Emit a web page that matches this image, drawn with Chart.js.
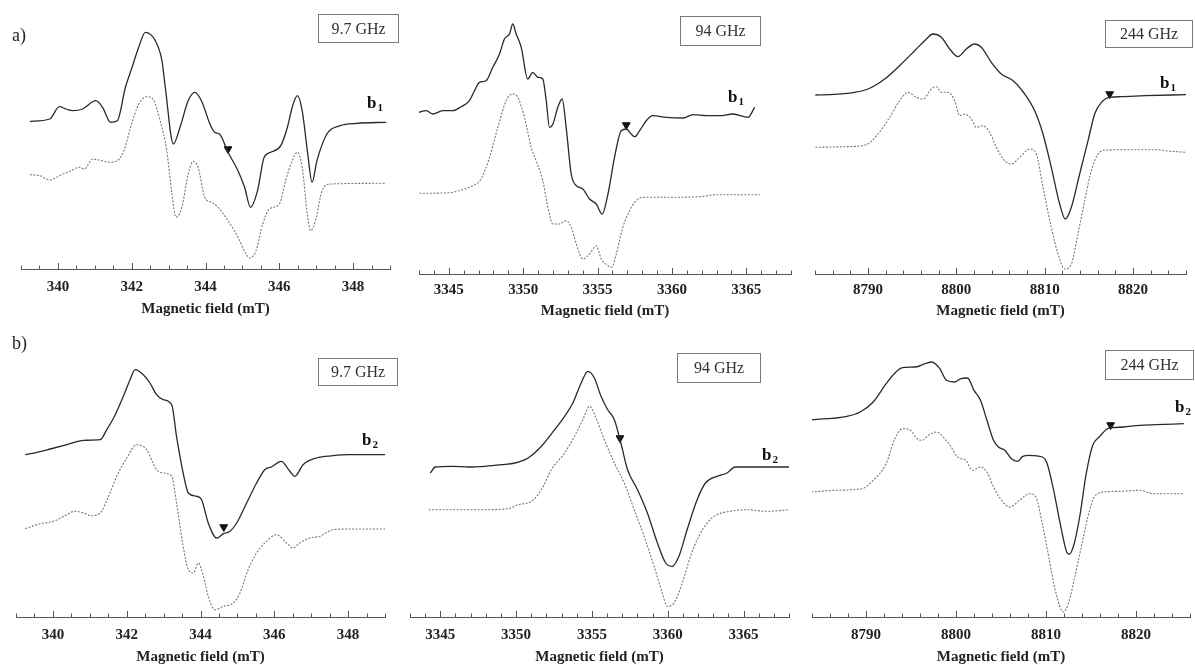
<!DOCTYPE html>
<html><head><meta charset="utf-8">
<script src="https://cdn.jsdelivr.net/npm/chart.js@4/dist/chart.umd.min.js"></script>
<style>
html,body{margin:0;padding:0;background:#fff;overflow:hidden;width:1195px;height:665px;position:relative;}
canvas{position:absolute;}
</style></head><body>
<canvas id="c1" width="400" height="320" style="left:0px;top:0px"></canvas>
<canvas id="c2" width="400" height="320" style="left:400px;top:0px"></canvas>
<canvas id="c3" width="395" height="320" style="left:800px;top:0px"></canvas>
<canvas id="c4" width="400" height="335" style="left:0px;top:330px"></canvas>
<canvas id="c5" width="400" height="335" style="left:400px;top:330px"></canvas>
<canvas id="c6" width="400" height="335" style="left:800px;top:330px"></canvas>
<script>
// ---------- tick labels ----------
const xTitle = 'Magnetic field (mT)';
const freqLabels = ['9.7 GHz', '94 GHz', '244 GHz'];
const xMajorX = [340, 342, 344, 346, 348];
const xMajorW = [3345, 3350, 3355, 3360, 3365];
const xMajorJ = [8790, 8800, 8810, 8820];

// ---------- a) 9.7 GHz ----------
const a1ExpField = [339.24,339.78,340.04,340.22,340.40,340.67,341.03,341.21,341.43,341.61,341.83,342.01,342.19,342.37,342.64,342.82,342.91,343.13,343.31,343.53,343.71,343.89,344.12,344.25,344.38,344.61,344.88,345.06,345.22,345.41,345.59,345.77,346.04,346.22,346.35,346.49,346.62,346.76,346.89,347.02,347.29,347.65,348.10,348.90];
const a1ExpSignal = [147.7,150,162.3,160,158.3,160,168.3,161.7,146.7,148.3,181.7,201.7,221.7,236.7,228.3,208.3,181.7,125,141.7,168.3,176.7,168.3,145,136.7,135,116.7,98.3,81.7,61.7,78.3,111.7,116.7,123.3,141.7,161.7,173.3,158.3,118.3,86.7,108.3,135,143.3,145.7,146.7];
const a1SimField = [339.24,339.51,339.78,340.04,340.36,340.58,340.72,340.94,341.12,341.39,341.61,341.79,341.97,342.19,342.42,342.60,342.77,342.95,343.09,343.20,343.36,343.53,343.67,343.80,343.98,344.16,344.34,344.61,344.88,345.10,345.19,345.37,345.55,345.73,346.00,346.17,346.35,346.49,346.62,346.76,346.85,346.98,347.16,347.38,348.90];
const a1SimSignal = [94.3,93.3,89,93.3,98.3,101.7,100,110,109,106.7,108.3,118.3,141.7,165,172.3,168.3,148.3,118.3,75,51.7,61.7,95,107.7,101.7,71.7,66.7,61.7,48.3,31.7,15,11,18.3,45,60,65,88.3,108.3,116.7,101.7,55,38.3,48.3,78.3,85,85.7];

// ---------- a) 94 GHz ----------
const a2ExpField = [3342.98,3343.48,3343.92,3344.60,3345.27,3345.83,3346.39,3346.73,3347.06,3347.51,3347.96,3348.41,3348.74,3349.08,3349.30,3349.53,3349.87,3350.31,3350.65,3350.99,3351.32,3351.55,3351.77,3352.00,3352.33,3352.62,3352.89,3353.23,3353.57,3354.01,3354.46,3354.91,3355.31,3355.70,3356.14,3356.59,3356.93,3357.26,3357.49,3357.83,3358.27,3358.72,3359.62,3360.74,3361.41,3362.31,3363.21,3364.10,3365.11,3365.56];
const a2ExpSignal = [161.7,163.3,160,163.3,163.3,167.3,173.3,183.3,191.7,193.3,206.7,220,235,240,250,240,226.7,195,201.7,196.7,195,173.3,146.7,150,166.7,175,146.7,100,88.3,85,75,70,60,80,116.7,143.3,145,140,137.3,143.3,153.3,158.3,156.7,156,159.3,158.3,158.3,160,156.7,166.7];
const a2SimField = [3343.03,3345.04,3345.83,3346.61,3347.17,3347.74,3348.30,3348.86,3349.30,3349.64,3350.09,3350.54,3350.87,3351.32,3351.66,3352.00,3352.44,3352.89,3353.23,3353.57,3354.01,3354.46,3354.91,3355.25,3355.70,3355.96,3356.26,3356.70,3357.15,3357.60,3358.05,3359.62,3361.86,3362.98,3365.90];
const a2SimSignal = [80.7,81.3,84,88.3,95,116.7,146.7,173.3,180,176.7,156.7,126.7,113.3,93.3,66.7,50,50,53.3,46.7,30,15,20,28.3,15,8.3,6.7,20,46.7,63.3,73.3,76.7,76.7,77.3,79.3,79.3];

// ---------- a) 244 GHz ----------
const a3ExpField = [8784.04,8785.47,8788.49,8790.00,8791.89,8793.77,8795.28,8796.42,8797.36,8798.30,8799.25,8800.19,8801.13,8802.08,8802.83,8803.96,8805.09,8806.42,8807.74,8808.87,8809.81,8810.75,8811.70,8812.34,8813.02,8813.96,8814.91,8815.66,8816.42,8817.36,8818.68,8821.32,8826.00];
const a3ExpSignal = [179,179.3,181.7,185,195,210,223.3,233.3,240,236.7,225,217.3,225,230,226.7,211.7,200,193.3,180,163.3,140,106.7,70,55,66.7,100,133.3,160,171.7,176.7,177.3,178.3,179.3];
const a3SimField = [8784.04,8787.36,8789.81,8791.13,8792.45,8793.58,8794.53,8795.47,8796.23,8797.17,8797.74,8798.30,8799.06,8799.81,8800.38,8800.94,8801.70,8802.26,8803.02,8803.77,8804.53,8805.47,8806.23,8807.17,8808.30,8809.06,8809.81,8810.75,8811.51,8812.26,8813.02,8813.77,8814.53,8815.28,8816.04,8816.98,8819.43,8822.45,8824.34,8826.00];
const a3SimSignal = [126.7,127.3,129.3,140,156.7,173.3,181.7,176.7,175,185,187.3,181.7,181.7,173.3,158.3,160,155,146.7,148.3,141.7,126.7,113.3,110,116.7,125,120,86.7,46.7,20,5,10,40,73.3,103.3,120,124,124.3,124.3,122.7,121.7];

// ---------- b) 9.7 GHz ----------
const b1ExpField = [339.25,339.57,339.93,340.38,340.83,341.28,341.46,341.69,341.91,342.09,342.23,342.45,342.63,342.81,342.99,343.22,343.35,343.53,343.67,343.90,344.03,344.21,344.44,344.62,344.80,344.98,345.25,345.52,345.74,345.92,346.19,346.42,346.56,346.78,347.14,347.59,348.04,349.00];
const b1ExpSignal = [162.3,164.7,168,172.3,176.7,177.3,187.3,202.3,220.7,237.3,247.3,242.3,234,222.3,217.3,212.3,180.7,144,124,120.7,117.3,94,79,83.3,85.7,94,114,134,147.3,150,155.7,145.7,140.7,152.3,159,161.3,162.3,162.3];
const b1SimField = [339.25,339.66,340.02,340.29,340.60,340.83,341.05,341.28,341.51,341.73,342.00,342.27,342.54,342.81,342.99,343.22,343.35,343.53,343.67,343.81,343.94,344.08,344.21,344.39,344.62,344.89,345.07,345.29,345.52,345.79,346.06,346.33,346.51,346.69,346.96,347.23,347.59,348.04,349.00];
const b1SimSignal = [88.3,93.3,95.7,100.7,105.7,104,101.3,104,120.7,140.7,159,172.3,167.3,147.3,144,140.7,114,70.7,47.3,44,54,40.7,20.7,7.3,10.7,14,24,47.3,64,75.7,82.3,74,69,74,79,80.7,87.3,88,88];

// ---------- b) 94 GHz ----------
const b2ExpField = [3344.34,3344.67,3345.77,3346.86,3347.95,3349.04,3349.92,3350.79,3351.67,3352.54,3353.20,3353.74,3354.29,3354.73,3355.16,3355.60,3356.04,3356.48,3356.91,3357.35,3358.01,3358.66,3359.32,3359.86,3360.30,3360.74,3361.28,3361.94,3362.49,3363.25,3363.91,3364.45,3365.66,3368.00];
const b2ExpSignal = [144,150,150.7,150,150.7,152.3,154,159,170.7,187.3,200.7,214,234,245.7,239,220.7,207.3,197.3,174,147.3,127.3,104,74,54,50.7,60.7,87.3,117.3,134,140.7,144,150,150,150];
const b2SimField = [3344.23,3345.77,3347.95,3349.48,3350.14,3351.01,3351.67,3352.32,3353.20,3353.85,3354.40,3354.84,3355.27,3355.82,3356.48,3357.13,3357.79,3358.44,3359.10,3359.64,3359.97,3360.41,3360.96,3361.50,3362.05,3362.70,3363.25,3364.13,3365.22,3366.53,3368.00];
const b2SimSignal = [107.3,107.3,107.3,108.3,112.3,115.7,127.3,147.3,164,180.7,197.3,210.7,199,177.3,154,134,107.3,80.7,50.7,24,10.7,14,34,60.7,80.7,95.7,102.3,105.7,107.3,105.7,107.3];

// ---------- b) 244 GHz ----------
const b3ExpField = [8783.93,8785.74,8787.90,8789.35,8790.80,8792.24,8793.14,8794.05,8795.49,8796.58,8797.30,8798.20,8798.93,8799.83,8800.55,8801.28,8802.00,8802.72,8803.44,8804.17,8804.71,8805.43,8806.15,8806.88,8807.42,8808.14,8809.59,8810.13,8810.85,8811.58,8812.30,8812.59,8813.13,8813.74,8814.47,8815.19,8815.91,8816.82,8817.36,8818.62,8820.43,8822.24,8825.31];
const b3ExpSignal = [197.3,198.3,200.7,205,215,233.3,243.3,249.3,250,253.3,255,248.3,236.7,235,238.3,239,226.7,216.7,196.7,176.7,170,166.7,158.3,155.7,160.7,161.7,160,153.3,126.7,93.3,65,62.7,73.3,100,143.3,171.7,180,188.3,189.3,190,191.7,192.3,193.3];
const b3SimField = [8783.93,8786.46,8789.53,8790.80,8792.24,8793.14,8794.05,8794.95,8795.67,8796.22,8796.94,8797.84,8798.57,8799.47,8800.01,8800.55,8801.10,8801.82,8802.72,8803.44,8804.17,8805.07,8805.97,8807.06,8808.14,8808.87,8809.59,8810.31,8811.03,8811.94,8812.48,8813.20,8813.92,8814.65,8815.37,8816.46,8818.26,8820.43,8821.88,8825.31];
const b3SimSignal = [125,126.7,128.3,136.7,153.3,176.7,188.3,186.7,178.3,176.7,181.7,185,180,170,161.7,158.3,156.7,146.7,150,145,130,116.7,110,116.7,123.3,120,93.3,60,26.7,5,13.3,40,70,100,120,125,125.7,126.7,123.3,123.3];

// ---------- arrow markers (field, signal) ----------
const markerField = [344.61, 3356.93, 8817.36, 344.63, 3356.85, 8817.18];
const markerSignal = [120, 149, 180, 90, 179, 192];

// ---------- build ----------
const zip = (xs, ys) => xs.map((x, i) => ({x: x, y: ys[i]}));
const serif = "'Liberation Serif', 'Times New Roman', serif";

const deco = {
  id: 'panelDeco',
  afterDraw(chart, args, o) {
    const ctx = chart.ctx, xs = chart.scales.x, area = chart.chartArea;
    ctx.save();
    ctx.strokeStyle = '#555'; ctx.lineWidth = 1;
    xs.ticks.forEach(t => {
      const px = Math.round(xs.getPixelForValue(t.value)) + 0.5;
      const major = o.majors.some(m => Math.abs(m - t.value) < 1e-6);
      ctx.beginPath();
      ctx.moveTo(px, area.bottom + 0.5);
      ctx.lineTo(px, area.bottom - (major ? 6 : 3.5));
      ctx.stroke();
    });
    const b = o.box;
    ctx.strokeStyle = '#7a7a7a'; ctx.lineWidth = 1;
    ctx.strokeRect(b[0] + 0.5, b[1] + 0.5, b[2], b[3]);
    ctx.fillStyle = '#333';
    ctx.font = '16px ' + serif;
    ctx.textAlign = 'center'; ctx.textBaseline = 'middle';
    ctx.fillText(o.freq, b[0] + b[2] / 2 + 0.5, b[1] + b[3] / 2 + 1.5);
    ctx.textAlign = 'left'; ctx.textBaseline = 'alphabetic';
    ctx.fillStyle = '#111';
    ctx.font = 'bold 17px ' + serif;
    ctx.fillText('b', o.tag[0], o.tag[1]);
    const w = ctx.measureText('b').width;
    ctx.font = 'bold 11px ' + serif;
    ctx.fillText(o.sub, o.tag[0] + w + 1, o.tag[1] + 3);
    if (o.letter) {
      ctx.fillStyle = '#222';
      ctx.font = '18px ' + serif;
      ctx.fillText(o.letter, o.letterPos[0], o.letterPos[1]);
    }
    ctx.restore();
  }
};

const panels = [
  {id: 'c1', ef: a1ExpField, es: a1ExpSignal, sf: a1SimField, ss: a1SimSignal, m: 0,
   min: 339, max: 349, step: 0.5, majors: xMajorX, pad: {left: 21, right: 10, top: 10}, axisH: 51, yMax: 259, tickPad: 10, titlePad: 3,
   freq: freqLabels[0], box: [318, 14, 80, 28], tag: [367, 108], sub: '1', letter: 'a)', letterPos: [12, 41]},
  {id: 'c2', ef: a2ExpField, es: a2ExpSignal, sf: a2SimField, ss: a2SimSignal, m: 1,
   min: 3343, max: 3368, step: 1, majors: xMajorW, pad: {left: 19, right: 9, top: 10}, axisH: 46, yMax: 264, tickPad: 8, titlePad: 1,
   freq: freqLabels[1], box: [280, 16, 80, 29], tag: [328, 102], sub: '1'},
  {id: 'c3', ef: a3ExpField, es: a3ExpSignal, sf: a3SimField, ss: a3SimSignal, m: 2,
   min: 8784, max: 8826, step: 2, majors: xMajorJ, pad: {left: 15, right: 9, top: 10}, axisH: 46, yMax: 264, tickPad: 8, titlePad: 1,
   freq: freqLabels[2], box: [305, 20, 87, 27], tag: [360, 88], sub: '1'},
  {id: 'c4', ef: b1ExpField, es: b1ExpSignal, sf: b1SimField, ss: b1SimSignal, m: 3,
   min: 339, max: 349, step: 0.5, majors: xMajorX, pad: {left: 16, right: 15, top: 10}, axisH: 48, yMax: 277, tickPad: 10, titlePad: 0,
   freq: freqLabels[0], box: [318, 28, 79, 27], tag: [362, 115], sub: '2', letter: 'b)', letterPos: [12, 19]},
  {id: 'c5', ef: b2ExpField, es: b2ExpSignal, sf: b2SimField, ss: b2SimSignal, m: 4,
   min: 3343, max: 3368, step: 1, majors: xMajorW, pad: {left: 8, right: 11, top: 10}, axisH: 48, yMax: 277, tickPad: 10, titlePad: 0,
   freq: freqLabels[1], box: [277, 23, 83, 29], tag: [362, 130], sub: '2'},
  {id: 'c6', ef: b3ExpField, es: b3ExpSignal, sf: b3SimField, ss: b3SimSignal, m: 5,
   min: 8784, max: 8826, step: 2, majors: xMajorJ, pad: {left: 12, right: 0, top: 10}, axisH: 48, yMax: 277, tickPad: 10, titlePad: 0,
   freq: freqLabels[2], box: [305, 20, 88, 29], tag: [375, 82], sub: '2'}
];

panels.forEach(p => {
  new Chart(document.getElementById(p.id), {
    type: 'line',
    data: {datasets: [
      {data: zip(p.ef, p.es), borderColor: '#2a2a2a', borderWidth: 1.3, pointRadius: 0, cubicInterpolationMode: 'monotone', fill: false},
      {data: zip(p.sf, p.ss), borderColor: '#777', borderWidth: 1.1, borderDash: [2, 1.5], pointRadius: 0, cubicInterpolationMode: 'monotone', fill: false},
      {type: 'scatter', data: [{x: markerField[p.m], y: markerSignal[p.m]}], pointStyle: 'triangle', rotation: 180, pointRadius: 4.5,
       backgroundColor: '#111', borderColor: '#111', borderWidth: 1}
    ]},
    options: {
      responsive: false, animation: false, events: [],
      layout: {padding: {left: p.pad.left, right: p.pad.right, top: p.pad.top, bottom: 0}},
      plugins: {legend: {display: false}, tooltip: {enabled: false},
        panelDeco: {majors: p.majors, box: p.box, freq: p.freq, tag: p.tag, sub: p.sub, letter: p.letter, letterPos: p.letterPos}},
      scales: {
        x: {type: 'linear', min: p.min, max: p.max,
          afterFit: (s) => { s.height = p.axisH; },
          grid: {display: false, drawTicks: false},
          border: {display: true, color: '#555', width: 1},
          ticks: {stepSize: p.step, autoSkip: false, maxRotation: 0, minRotation: 0, padding: p.tickPad, color: '#222',
            font: {family: serif, weight: 'bold', size: 15, lineHeight: 1.1},
            callback: (v) => p.majors.some(m => Math.abs(m - v) < 1e-6) ? String(v) : ''},
          title: {display: true, text: xTitle, color: '#222', font: {family: serif, weight: 'bold', size: 15, lineHeight: 1},
            padding: {top: 0, bottom: p.titlePad}}
        },
        y: {display: false, min: 0, max: p.yMax}
      }
    },
    plugins: [deco]
  });
});
</script>
</body></html>
